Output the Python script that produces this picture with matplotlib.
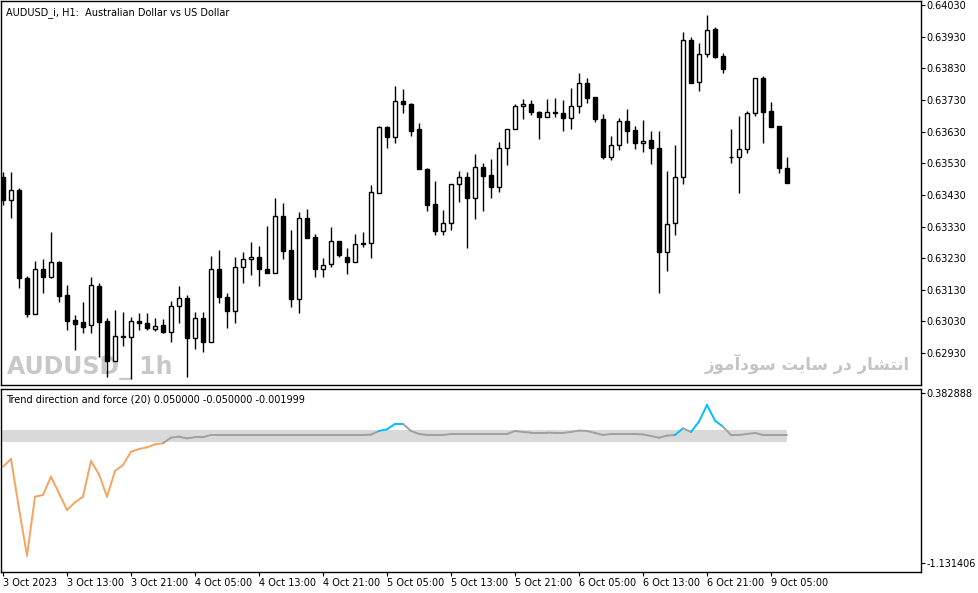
import numpy as np
import matplotlib
matplotlib.use("Agg")
import matplotlib.pyplot as plt

# hourly AUDUSD candles (open, high, low, close)
opens = [0.63487, 0.63414, 0.63446, 0.63168, 0.63054, 0.63196, 0.63171, 0.63217, 0.63114, 0.63035,
         0.63029, 0.63019, 0.63142, 0.63032, 0.62905, 0.62984, 0.62981, 0.63032, 0.63025, 0.63006,
         0.63019, 0.62997, 0.63079, 0.63104, 0.62978, 0.63041, 0.62965, 0.63196, 0.63108, 0.63063,
         0.63202, 0.63228, 0.63234, 0.63196, 0.63183, 0.63363, 0.63256, 0.63101, 0.63357, 0.63297,
         0.63196, 0.63212, 0.63284, 0.63234, 0.63217, 0.63278, 0.63278, 0.63436, 0.63645, 0.63613,
         0.63727, 0.63717, 0.63638, 0.63512, 0.63402, 0.63316, 0.63341, 0.63465, 0.63487, 0.63420,
         0.63518, 0.63493, 0.63455, 0.63578, 0.63638, 0.63711, 0.63717, 0.63692, 0.63676, 0.63692,
         0.63689, 0.63673, 0.63711, 0.63784, 0.63740, 0.63670, 0.63550, 0.63588, 0.63664, 0.63635,
         0.63594, 0.63604, 0.63578, 0.63250, 0.63341, 0.63487, 0.63920, 0.63787, 0.63875, 0.63954,
         0.63869, 0.63550, 0.63550, 0.63575, 0.63689, 0.63800, 0.63695, 0.63648, 0.63515]
highs = [0.63502, 0.63502, 0.63452, 0.63174, 0.63221, 0.63228, 0.63313, 0.63221, 0.63145, 0.63051,
         0.63092, 0.63171, 0.63152, 0.63041, 0.63066, 0.63060, 0.63044, 0.63057, 0.63057, 0.63041,
         0.63038, 0.63095, 0.63142, 0.63114, 0.63060, 0.63060, 0.63237, 0.63256, 0.63120, 0.63234,
         0.63250, 0.63281, 0.63269, 0.63332, 0.63420, 0.63405, 0.63319, 0.63376, 0.63386, 0.63307,
         0.63231, 0.63329, 0.63284, 0.63262, 0.63307, 0.63313, 0.63462, 0.63648, 0.63648, 0.63774,
         0.63765, 0.63721, 0.63657, 0.63515, 0.63474, 0.63382, 0.63465, 0.63506, 0.63502, 0.63559,
         0.63531, 0.63544, 0.63597, 0.63638, 0.63717, 0.63733, 0.63730, 0.63695, 0.63733, 0.63736,
         0.63730, 0.63768, 0.63815, 0.63800, 0.63740, 0.63686, 0.63616, 0.63673, 0.63702, 0.63648,
         0.63667, 0.63632, 0.63632, 0.63506, 0.63588, 0.63945, 0.63929, 0.63910, 0.63999, 0.63961,
         0.63878, 0.63638, 0.63679, 0.63695, 0.63800, 0.63806, 0.63724, 0.63648, 0.63550]
lows = [0.63398, 0.63357, 0.63136, 0.63044, 0.63054, 0.63120, 0.63168, 0.63092, 0.63003, 0.62940,
        0.62994, 0.62994, 0.62918, 0.62855, 0.62905, 0.62953, 0.62848, 0.63003, 0.63003, 0.63000,
        0.62994, 0.62965, 0.63025, 0.62855, 0.62943, 0.62934, 0.62965, 0.63089, 0.63010, 0.63025,
        0.63152, 0.63177, 0.63142, 0.63183, 0.63183, 0.63228, 0.63076, 0.63057, 0.63294, 0.63171,
        0.63171, 0.63202, 0.63234, 0.63180, 0.63217, 0.63265, 0.63231, 0.63436, 0.63578, 0.63594,
        0.63689, 0.63616, 0.63512, 0.63379, 0.63303, 0.63303, 0.63319, 0.63408, 0.63262, 0.63354,
        0.63379, 0.63420, 0.63439, 0.63525, 0.63638, 0.63670, 0.63683, 0.63607, 0.63676, 0.63676,
        0.63632, 0.63638, 0.63689, 0.63721, 0.63661, 0.63544, 0.63540, 0.63572, 0.63594, 0.63575,
        0.63566, 0.63528, 0.63120, 0.63190, 0.63303, 0.63465, 0.63784, 0.63758, 0.63866, 0.63863,
        0.63815, 0.63531, 0.63436, 0.63562, 0.63679, 0.63594, 0.63645, 0.63499, 0.63468]
closes = [0.63414, 0.63446, 0.63168, 0.63054, 0.63196, 0.63171, 0.63217, 0.63111, 0.63032, 0.63022,
          0.63013, 0.63145, 0.63029, 0.62905, 0.62984, 0.62981, 0.63032, 0.63025, 0.63010, 0.63016,
          0.62997, 0.63079, 0.63104, 0.62978, 0.63041, 0.62965, 0.63196, 0.63108, 0.63063, 0.63202,
          0.63228, 0.63234, 0.63196, 0.63183, 0.63363, 0.63254, 0.63101, 0.63357, 0.63294, 0.63196,
          0.63209, 0.63284, 0.63240, 0.63217, 0.63275, 0.63275, 0.63439, 0.63645, 0.63613, 0.63727,
          0.63717, 0.63632, 0.63512, 0.63398, 0.63316, 0.63341, 0.63465, 0.63487, 0.63420, 0.63518,
          0.63490, 0.63455, 0.63578, 0.63638, 0.63711, 0.63717, 0.63692, 0.63676, 0.63692, 0.63689,
          0.63673, 0.63711, 0.63784, 0.63736, 0.63670, 0.63550, 0.63588, 0.63664, 0.63632, 0.63594,
          0.63600, 0.63578, 0.63250, 0.63338, 0.63487, 0.63920, 0.63784, 0.63875, 0.63951, 0.63866,
          0.63828, 0.63550, 0.63575, 0.63689, 0.63800, 0.63692, 0.63645, 0.63515, 0.63468]

# Trend direction and force (20)
tdf = [-0.273, -0.205, -0.644, -1.065, -0.540, -0.525, -0.362, -0.510, -0.659, -0.590,
       -0.540, -0.222, -0.341, -0.540, -0.311, -0.258, -0.140, -0.116, -0.101, -0.074,
       -0.065, -0.015, -0.006, -0.021, -0.011, -0.011, 0.009, 0.009, 0.009, 0.009,
       0.009, 0.009, 0.009, 0.009, 0.009, 0.009, 0.009, 0.009, 0.009, 0.009,
       0.009, 0.009, 0.009, 0.009, 0.009, 0.009, 0.012, 0.045, 0.059, 0.107,
       0.107, 0.045, 0.018, 0.009, 0.009, 0.009, 0.018, 0.018, 0.018, 0.018,
       0.018, 0.018, 0.018, 0.018, 0.044, 0.036, 0.030, 0.030, 0.030, 0.027,
       0.027, 0.036, 0.048, 0.045, 0.027, 0.009, 0.018, 0.018, 0.018, 0.018,
       0.014, 0.000, -0.015, 0.003, 0.009, 0.068, 0.036, 0.128, 0.276, 0.137,
       0.083, 0.009, 0.009, 0.018, 0.027, 0.009, 0.009, 0.009, 0.009]
tdf_levels = [0.05, -0.05]
ind_ticks = [0.382888, -1.131406]
price_ticks = [0.62930, 0.63030, 0.63130, 0.63230, 0.63330, 0.63430, 0.63530,
               0.63630, 0.63730, 0.63830, 0.63930, 0.64030]
x_labels = ["3 Oct 2023", "3 Oct 13:00", "3 Oct 21:00", "4 Oct 05:00", "4 Oct 13:00",
            "4 Oct 21:00", "5 Oct 05:00", "5 Oct 13:00", "5 Oct 21:00", "6 Oct 05:00",
            "6 Oct 13:00", "6 Oct 21:00", "9 Oct 05:00"]

W, H = 979, 593
fig = plt.figure(figsize=(W / 100, H / 100), dpi=100)
plt.rcParams["font.family"] = ["DejaVu Sans"]

def frac(x0, y0, x1, y1):
    return [x0 / W, 1 - y1 / H, (x1 - x0) / W, (y1 - y0) / H]

ax = fig.add_axes(frac(1, 1, 921, 385))
ax2 = fig.add_axes(frac(1, 389, 921, 572), sharex=ax)

n = len(opens)
x = np.arange(n)
o, h, l, c = map(np.array, (opens, highs, lows, closes))
bull = c >= o

ax.vlines(x, l, h, color="black", lw=1.0, zorder=2)
lo = np.minimum(o, c)
hi = np.maximum(o, c)
ht = np.maximum(hi - lo, 0.000005)
ax.bar(x[bull], ht[bull], bottom=lo[bull], width=0.55, color="white",
       edgecolor="black", lw=1.0, zorder=3)
ax.bar(x[~bull], ht[~bull], bottom=lo[~bull], width=0.55, color="black",
       edgecolor="black", lw=1.0, zorder=3)

xlim = (-0.25, 114.75)
ax.set_xlim(*xlim)
ax.set_ylim(0.62829, 0.64043)
ax.yaxis.tick_right()
ax.set_yticks(price_ticks)
ax.set_yticklabels([f"{v:.5f}" for v in price_ticks])
ax.tick_params(axis="y", length=3, labelsize=7, pad=1)
ax.tick_params(axis="x", bottom=False, labelbottom=False)

ax.text(0.005, 0.985, "AUDUSD_i, H1:  Australian Dollar vs US Dollar", transform=ax.transAxes,
        fontsize=7, va="top", ha="left")
ax.text(0.006, 0.012, "AUDUSD_ 1h", transform=ax.transAxes, fontsize=17, fontweight="bold",
        color="#c8c8c8", va="bottom", ha="left", zorder=0)
# Persian watermark "انتشار در سایت سودآموز", pre-shaped in visual order
wm = "\uFEAF\uFEEE\uFEE3\uFE81\uFEA9\uFEEE\uFEB3 \uFE96\uFBFE\uFE8E\uFEB3 \uFEAD\uFEA9 \uFEAD\uFE8E\uFEB8\uFE98\uFEE7\uFE8D"
ax.text(0.988, 0.028, wm, transform=ax.transAxes, fontsize=12, fontweight="bold",
        color="#c4c4c4", va="bottom", ha="right", zorder=0)

# indicator panel
ax2.fill_between([xlim[0], n - 1], tdf_levels[1], tdf_levels[0], color="#d9d9d9", lw=0)
for i in range(n - 1):
    v = tdf[i + 1]
    col = "#00bfff" if v > tdf_levels[0] else ("#f4a460" if v < tdf_levels[1] else "#a0a0a0")
    ax2.plot([i, i + 1], [tdf[i], tdf[i + 1]], color=col, lw=1.4, solid_capstyle="round")
ax2.set_ylim(-1.21, 0.418)
ax2.yaxis.tick_right()
ax2.set_yticks(ind_ticks)
ax2.set_yticklabels([f"{v:.6f}" for v in ind_ticks])
ax2.tick_params(axis="y", length=3, labelsize=7, pad=1)
ax2.set_xticks(np.arange(len(x_labels)) * 8)
ax2.set_xticklabels(x_labels)
ax2.tick_params(axis="x", length=3, labelsize=7, pad=1)
for lab in ax2.get_xticklabels():
    lab.set_horizontalalignment("left")
ax2.text(0.005, 0.97, "Trend direction and force (20) 0.050000 -0.050000 -0.001999",
         transform=ax2.transAxes, fontsize=7, va="top", ha="left")

for a in (ax, ax2):
    for s in a.spines.values():
        s.set_linewidth(1.0)

fig.savefig("out.png", dpi=100)
